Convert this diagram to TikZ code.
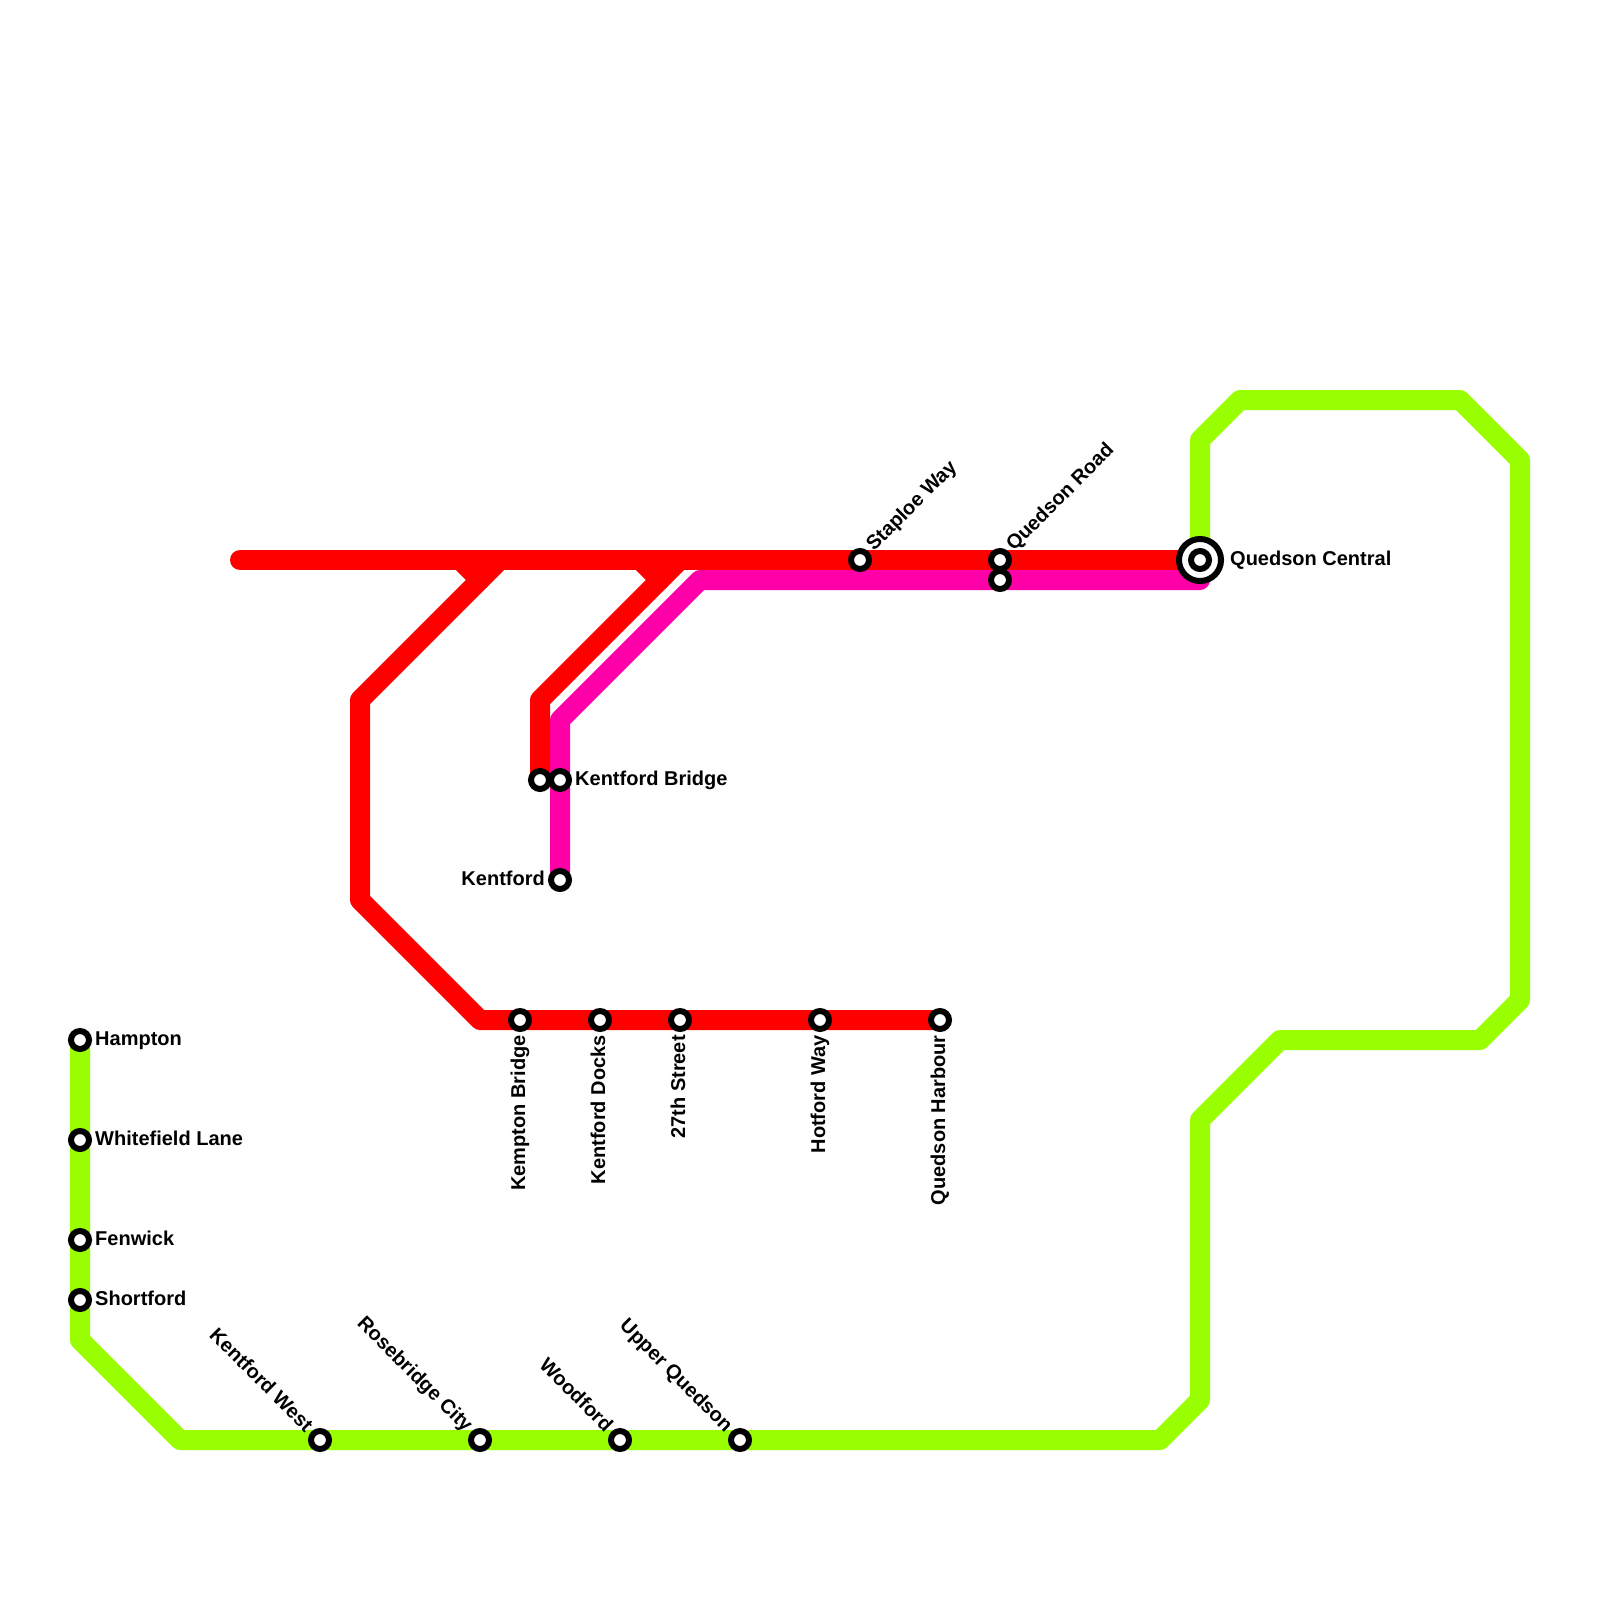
\documentclass[tikz,border=0pt]{standalone}
\usepackage{fontspec}
\setmainfont{Liberation Sans}
\definecolor{limeline}{HTML}{99FF00}
\definecolor{redline}{HTML}{FF0000}
\definecolor{pinkline}{HTML}{FF00A8}
\tikzset{
  route/.style={line width=20pt,line cap=round,line join=round},
  stop/.style={circle,draw=black,fill=white,line width=6pt,minimum size=18pt,inner sep=0pt,outer sep=0pt},
  hub/.style={circle,draw=black,fill=white,line width=6pt,minimum size=42pt,inner sep=0pt,outer sep=0pt},
  lbl/.style={font=\bfseries\fontsize{20pt}{20pt}\selectfont,inner sep=0pt,text=black}
}
\begin{document}
\begin{tikzpicture}[x=1pt,y=-1pt]
\useasboundingbox[fill=white] (0,0) rectangle (1600,1600);
% bend points
\coordinate (g1) at (80,1340);
\coordinate (g2) at (180,1440);
\coordinate (g3) at (1160,1440);
\coordinate (g4) at (1200,1400);
\coordinate (g5) at (1200,1120);
\coordinate (g6) at (1280,1040);
\coordinate (g7) at (1480,1040);
\coordinate (g8) at (1520,1000);
\coordinate (g9) at (1520,460);
\coordinate (g10) at (1460,400);
\coordinate (g11) at (1240,400);
\coordinate (g12) at (1200,440);
\coordinate (r0) at (240,560);
\coordinate (r1) at (460,560);
\coordinate (r2) at (480,580);
\coordinate (rtop) at (500,560);
\coordinate (r3) at (360,700);
\coordinate (r4) at (360,900);
\coordinate (r5) at (480,1020);
\coordinate (s1) at (640,560);
\coordinate (s2) at (660,580);
\coordinate (stop) at (680,560);
\coordinate (s3) at (540,700);
\coordinate (p1) at (700,580);
\coordinate (p2) at (560,720);
\coordinate (hubpt) at (1200,560);
\coordinate (pinkend) at (1200,580);
% station anchors
\coordinate (ahampton) at (80,1040);
\coordinate (awhite) at (80,1140);
\coordinate (afen) at (80,1240);
\coordinate (ashort) at (80,1300);
\coordinate (akw) at (320,1440);
\coordinate (arose) at (480,1440);
\coordinate (awood) at (620,1440);
\coordinate (aupper) at (740,1440);
\coordinate (akemp) at (520,1020);
\coordinate (adocks) at (600,1020);
\coordinate (a27) at (680,1020);
\coordinate (ahot) at (820,1020);
\coordinate (aharb) at (940,1020);
\coordinate (abridgeL) at (540,780);
\coordinate (abridgeR) at (560,780);
\coordinate (akent) at (560,880);
\coordinate (astap) at (860,560);
\coordinate (aroad) at (1000,560);
\coordinate (aroadb) at (1000,580);
% routes
\draw[route,limeline] (ahampton) -- (g1) -- (g2) -- (g3) -- (g4) -- (g5) -- (g6) -- (g7) -- (g8) -- (g9) -- (g10) -- (g11) -- (g12) -- (hubpt);
\draw[route,pinkline] (pinkend) -- (p1) -- (p2) -- (akent);
\draw[route,redline] (r0) -- (hubpt);
\draw[route,redline] (r1) -- (r2);
\draw[route,redline] (rtop) -- (r3) -- (r4) -- (r5) -- (aharb);
\draw[route,redline] (s1) -- (s2);
\draw[route,redline] (stop) -- (s3) -- (abridgeL);
% stations
\foreach \n in {ahampton,awhite,afen,ashort,akw,arose,awood,aupper,akemp,adocks,a27,ahot,aharb,abridgeL,abridgeR,akent,astap,aroad,aroadb}
  \node[stop] (st\n) at (\n) {};
\node[hub] (sthub) at (hubpt) {};
\node[stop] (sthubin) at (hubpt) {};
% labels
\node[lbl,anchor=base west] (l1) at ([shift={(15,5)}]ahampton) {Hampton};
\node[lbl,anchor=base west] (l2) at ([shift={(15,5)}]awhite) {Whitefield Lane};
\node[lbl,anchor=base west] (l3) at ([shift={(15,5)}]afen) {Fenwick};
\node[lbl,anchor=base west] (l4) at ([shift={(15,5)}]ashort) {Shortford};
\node[lbl,anchor=base west] (l5) at ([shift={(15,5)}]abridgeR) {Kentford Bridge};
\node[lbl,anchor=base east] (l6) at ([shift={(-15,5)}]akent) {Kentford};
\node[lbl,anchor=base west] (l7) at ([shift={(30,5)}]hubpt) {Quedson Central};
\node[lbl,anchor=base east,rotate=90] (l8) at ([shift={(5,15)}]akemp) {Kempton Bridge};
\node[lbl,anchor=base east,rotate=90] (l9) at ([shift={(5,15)}]adocks) {Kentford Docks};
\node[lbl,anchor=base east,rotate=90] (l10) at ([shift={(5,15)}]a27) {27th Street};
\node[lbl,anchor=base east,rotate=90] (l11) at ([shift={(5,15)}]ahot) {Hotford Way};
\node[lbl,anchor=base east,rotate=90] (l12) at ([shift={(5,15)}]aharb) {Quedson Harbour};
\node[lbl,anchor=base west,rotate=45] (l13) at ([shift={(14,-8)}]astap) {Staploe Way};
\node[lbl,anchor=base west,rotate=45] (l14) at ([shift={(14,-8)}]aroad) {Quedson Road};
\node[lbl,anchor=base east,rotate=-45] (l15) at ([shift={(-15,-7)}]akw) {Kentford West};
\node[lbl,anchor=base east,rotate=-45] (l16) at ([shift={(-15,-7)}]arose) {Rosebridge City};
\node[lbl,anchor=base east,rotate=-45] (l17) at ([shift={(-15,-7)}]awood) {Woodford};
\node[lbl,anchor=base east,rotate=-45] (l18) at ([shift={(-15,-7)}]aupper) {Upper Quedson};
\end{tikzpicture}
\end{document}
